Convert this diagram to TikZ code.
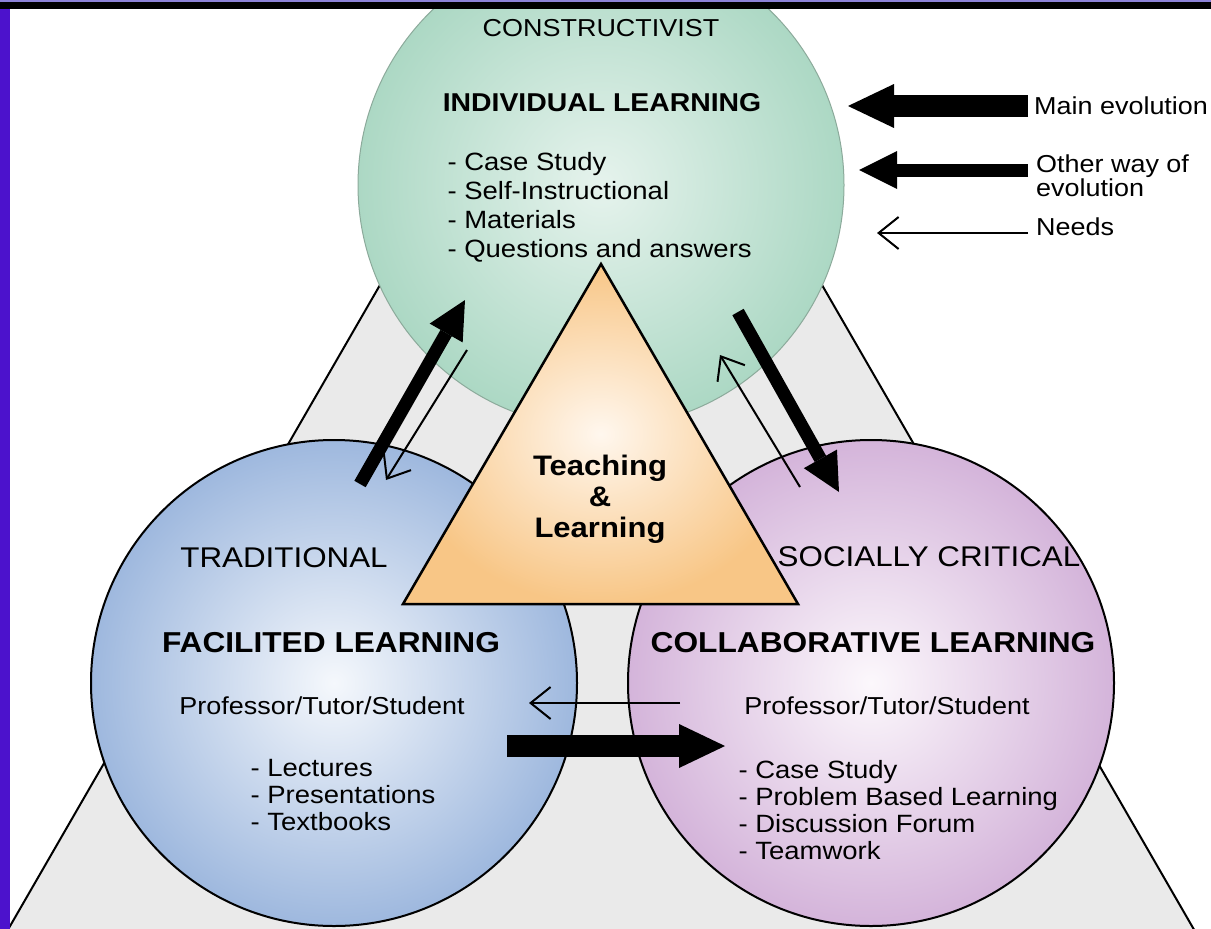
\documentclass[tikz,border=0pt]{standalone}
\usepackage{fontspec}
\setmainfont{Liberation Sans}[FakeStretch=1.1]
\usetikzlibrary{arrows.meta}
\definecolor{bggray}{RGB}{234,234,234}
\definecolor{greenout}{RGB}{172,216,196}
\definecolor{greenin}{RGB}{230,243,237}
\definecolor{greenline}{RGB}{140,170,155}
\definecolor{blueout}{RGB}{158,184,222}
\definecolor{bluein}{RGB}{245,248,252}
\definecolor{purpout}{RGB}{212,180,218}
\definecolor{purpin}{RGB}{252,248,252}
\definecolor{orangeout}{RGB}{248,198,134}
\definecolor{orangein}{RGB}{255,247,238}
\definecolor{frameblue}{RGB}{76,18,204}
\definecolor{framelav}{RGB}{140,130,215}
\tikzset{
  bigcircle/.style={circle, minimum size=486pt, inner sep=0pt},
  reg/.style={font=\fontsize{24.5}{24.5}\selectfont},
  caps/.style={font=\fontsize{28.5}{28.5}\selectfont},
  head/.style={font=\bfseries\fontsize{28.8}{28.8}\selectfont},
  listtext/.style={anchor=west, align=left, font=\fontsize{25}{27}\selectfont},
  legend/.style={anchor=west, align=left, font=\fontsize{24.5}{22}\selectfont},
  mainevo/.style={line width=22pt, -{Triangle[length=46pt,width=44pt,line width=0pt]}},
  otherevo/.style={line width=13pt, -{Triangle[length=38pt,width=38pt,line width=0pt]}},
  needs/.style={line width=2pt, -{Straight Barb[length=20pt,width=32pt]}}
}
\begin{document}
\begin{tikzpicture}[x=1pt,y=-1pt]
\useasboundingbox (0,0) rectangle (1211,929);
\begin{scope}
\clip (0,0) rectangle (1211,929);
\fill[white] (0,0) rectangle (1211,929);
% large background triangle
\coordinate (bA) at (601,-98);
\coordinate (bL) at (2,940);
\coordinate (bR) at (1200,940);
\filldraw[fill=bggray, draw=black, line width=2pt] (bA) -- (bL) -- (bR) -- cycle;
% three circles
\node[bigcircle, draw=greenline, line width=1pt, inner color=greenin, outer color=greenout] (top) at (601,185) {};
\node[bigcircle, draw=black, line width=2pt, inner color=bluein, outer color=blueout] (left) at (334,683) {};
\node[bigcircle, draw=black, line width=2pt, inner color=purpin, outer color=purpout] (right) at (871,683) {};
% central triangle
\coordinate (tA) at (601,264);
\coordinate (tL) at (403,604);
\coordinate (tR) at (798,604);
\shade[inner color=orangein, outer color=orangeout] (tA) -- (tL) -- (tR) -- cycle;
\draw[line width=2.5pt, line join=miter] (tA) -- (tL) -- (tR) -- cycle;
\node[align=center, font=\bfseries\fontsize{28.2}{31}\selectfont] (tl) at (600,499) {Teaching\\\&\\Learning};
% top circle texts
\node[reg] (constr) at (601,28) {CONSTRUCTIVIST};
\node[font=\bfseries\fontsize{25.8}{25.8}\selectfont] (indiv) at (602,103) {INDIVIDUAL LEARNING};
\node[listtext, font=\fontsize{25}{29}\selectfont] (indlist) at (444,207) {- Case Study\\- Self-Instructional\\- Materials\\- Questions and answers};
% left circle texts
\node[caps] (trad) at (284,558) {TRADITIONAL};
\node[head] (facil) at (331,643) {FACILITED LEARNING};
\node[reg] (pts1) at (322,706) {Professor/Tutor/Student};
\node[listtext] (lectlist) at (247,795) {- Lectures\\- Presentations\\- Textbooks};
% right circle texts
\node[caps] (soc) at (929,557) {SOCIALLY CRITICAL};
\node[head] (collab) at (873,643) {COLLABORATIVE LEARNING};
\node[reg] (pts2) at (887,706) {Professor/Tutor/Student};
\node[listtext] (collist) at (735,810) {- Case Study\\- Problem Based Learning\\- Discussion Forum\\- Teamwork};
% evolution arrows between circles
\coordinate (a1s) at (360,484);
\coordinate (a1e) at (465,300);
\draw[otherevo] (a1s) -- (a1e);
\coordinate (a2s) at (467,350);
\coordinate (a2e) at (386,480);
\draw[needs] (a2s) -- (a2e);
\coordinate (a3s) at (738,312);
\coordinate (a3e) at (839,492);
\draw[otherevo] (a3s) -- (a3e);
\coordinate (a4s) at (800,487);
\coordinate (a4e) at (720,355);
\draw[needs] (a4s) -- (a4e);
\coordinate (a5s) at (680,703);
\coordinate (a5e) at (529,703);
\draw[needs] (a5s) -- (a5e);
\coordinate (a6s) at (507,746);
\coordinate (a6e) at (725,746);
\draw[mainevo] (a6s) -- (a6e);
% legend
\coordinate (l1s) at (1028,106);
\coordinate (l1e) at (848,106);
\draw[mainevo] (l1s) -- (l1e);
\node[legend, inner sep=0pt] (lg1) at (1034,106) {Main evolution};
\coordinate (l2s) at (1028,170);
\coordinate (l2e) at (859,170);
\draw[otherevo] (l2s) -- (l2e);
\node[legend, inner sep=0pt] (lg2) at (1036,176) {Other way of\\evolution};
\coordinate (l3s) at (1028,233);
\coordinate (l3e) at (877,233);
\draw[needs] (l3s) -- (l3e);
\node[legend, inner sep=0pt] (lg3) at (1036,227) {Needs};
% frame
\fill[framelav] (0,0) rectangle (1211,1.5);
\fill[black] (0,1.5) rectangle (1211,8.5);
\fill[frameblue] (0,8.5) rectangle (10,929);
\end{scope}
\end{tikzpicture}
\end{document}
